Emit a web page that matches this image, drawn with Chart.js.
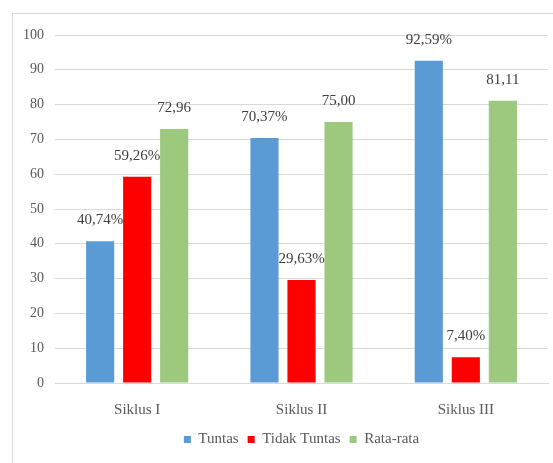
<!DOCTYPE html>
<html>
<head>
<meta charset="utf-8">
<script src="https://cdn.jsdelivr.net/npm/chart.js@4.4.0/dist/chart.umd.min.js"></script>
<style>
  html, body { margin: 0; padding: 0; background: #ffffff; }
  #wrap { position: relative; width: 553px; height: 463px; }
  #frame { position: absolute; left: 12px; top: 13px; right: 0; bottom: 0;
           border-left: 1px solid #d9d9d9; border-top: 1px solid #d9d9d9; pointer-events: none; }
  canvas { position: absolute; left: 0; top: 0; }
</style>
</head>
<body>
<div id="wrap">
  <canvas id="c" width="553" height="463"></canvas>
  <div id="frame"></div>
</div>
<script>
const categories = ["Siklus I", "Siklus II", "Siklus III"];
const tuntas = [40.74, 70.37, 92.59];
const tidakTuntas = [59.26, 29.63, 7.40];
const rataRata = [72.96, 75.00, 81.11];
const seriesNames = ["Tuntas", "Tidak Tuntas", "Rata-rata"];
const seriesSuffix = ["%", "%", ""];
const yTicks = [0, 10, 20, 30, 40, 50, 60, 70, 80, 90, 100];

const fontFamily = "'Liberation Serif', 'Times New Roman', serif";

const valueLabels = {
  id: 'valueLabels',
  afterDatasetsDraw(chart) {
    const ctx = chart.ctx;
    ctx.save();
    ctx.font = "15px " + fontFamily;
    ctx.fillStyle = "#404040";
    ctx.textAlign = "center";
    ctx.textBaseline = "middle";
    chart.data.datasets.forEach((ds, di) => {
      const meta = chart.getDatasetMeta(di);
      meta.data.forEach((bar, i) => {
        const v = ds.data[i];
        const txt = v.toFixed(2).replace('.', ',') + seriesSuffix[di];
        ctx.fillText(txt, bar.x, bar.y - 21);
      });
    });
    ctx.restore();
  }
};

new Chart(document.getElementById('c'), {
  type: 'bar',
  data: {
    labels: categories,
    datasets: [
      { label: seriesNames[0], data: tuntas, backgroundColor: '#5B9BD5' },
      { label: seriesNames[1], data: tidakTuntas, backgroundColor: '#FF0000' },
      { label: seriesNames[2], data: rataRata, backgroundColor: '#9DC97F' }
    ]
  },
  options: {
    responsive: false,
    animation: false,
    layout: { padding: { left: 0, right: 5, top: 35, bottom: 6 } },
    datasets: { bar: { categoryPercentage: 0.676, barPercentage: 0.76 } },
    scales: {
      x: {
        grid: { display: false },
        border: { display: true, color: '#d9d9d9' },
        afterFit(axis) { axis.height = axis.height - 6; },
        ticks: { color: '#595959', font: { family: fontFamily, size: 15 }, padding: 10 }
      },
      y: {
        min: 0, max: 100,
        afterBuildTicks(axis) { axis.ticks = yTicks.map(v => ({ value: v })); },
        afterFit(axis) { axis.width = 55; },
        grid: { color: '#d9d9d9', drawTicks: false },
        border: { display: false },
        ticks: { color: '#595959', font: { family: fontFamily, size: 14 }, padding: 11 }
      }
    },
    plugins: {
      legend: {
        position: 'bottom',
        fullSize: false,
        labels: { boxWidth: 7, boxHeight: 7, color: '#595959',
                  font: { family: fontFamily, size: 15 }, padding: 9 }
      },
      tooltip: { enabled: false }
    }
  },
  plugins: [valueLabels]
});
</script>
</body>
</html>
